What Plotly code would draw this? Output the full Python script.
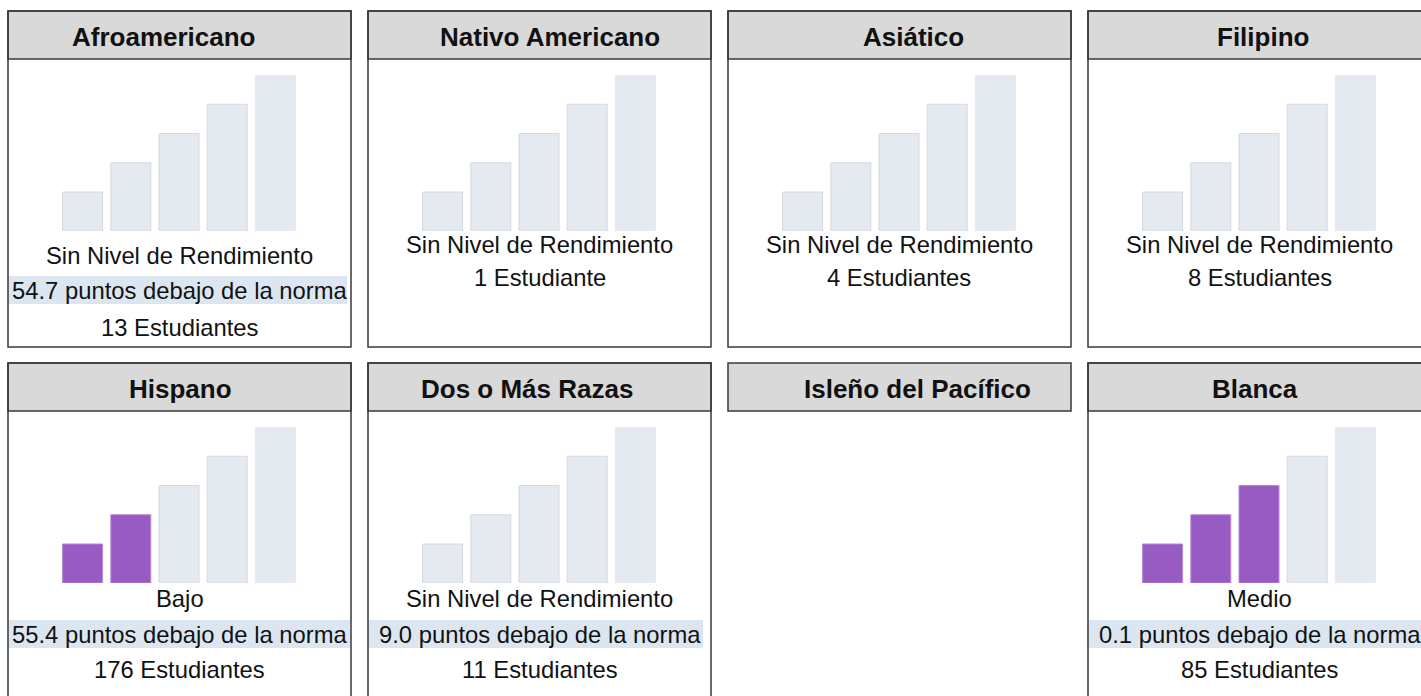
import plotly.graph_objects as go

# ---------------- data ----------------
groups = ["Afroamericano", "Nativo Americano", "Asiático", "Filipino",
          "Hispano", "Dos o Más Razas", "Isleño del Pacífico", "Blanca"]
levels = ["Sin Nivel de Rendimiento", "Sin Nivel de Rendimiento",
          "Sin Nivel de Rendimiento", "Sin Nivel de Rendimiento",
          "Bajo", "Sin Nivel de Rendimiento", None, "Medio"]
distance_text = ["54.7 puntos debajo de la norma", None, None, None,
                 "55.4 puntos debajo de la norma", "9.0 puntos debajo de la norma",
                 None, "0.1 puntos debajo de la norma"]
student_text = ["13 Estudiantes", "1 Estudiante", "4 Estudiantes", "8 Estudiantes",
                "176 Estudiantes", "11 Estudiantes", None, "85 Estudiantes"]
filled_levels = [0, 0, 0, 0, 2, 0, None, 3]   # number of highlighted bars
bar_levels = [1, 2, 3, 4, 5]
bar_heights = [4, 7, 10, 13, 16]

# ---------------- style ----------------
W, H = 1421, 696
FONT = "Liberation Sans, Arial, Helvetica, sans-serif"
BORDER = "#3a3a3a"
HEADER_BG = "#d9d9d9"
BAR_EMPTY = "#e5e9f0"
BAR_EMPTY_EDGE = "#d6d9de"
BAR_FILL = "#985bc4"
BAR_FILL_EDGE = "#b58ad4"
BAND = "#dce6f1"
BODY_SIZE = 23.8
HEAD_SIZE = 26

def px(x):
    return x / W

def py(y):
    return 1 - y / H

# band horizontal extents relative to panel left
band_extent = {0: (0, 339), 4: (0, 342), 5: (0, 335), 7: (-1, 343)}
# horizontal shift of header titles relative to the panel centre
header_dx = [-16, 10, 14, 3.5, 0.5, -13, 18, -5]

fig = go.Figure()
shapes, annotations = [], []
layout_axes = {}
ax_n = 0

for i, g in enumerate(groups):
    row, col = divmod(i, 4)
    left = 8 + 360 * col
    top = 11 + 352 * row
    right = left + 343
    bottom = top + 336
    hdr_bottom = top + 48
    cx = (left + right) / 2
    has_body = student_text[i] is not None

    if has_body:
        shapes.append(dict(type="rect", xref="paper", yref="paper",
                           x0=px(left), x1=px(right), y0=py(bottom), y1=py(top),
                           line=dict(color=BORDER, width=1.5), fillcolor="rgba(0,0,0,0)",
                           layer="above"))
    shapes.append(dict(type="rect", xref="paper", yref="paper",
                       x0=px(left), x1=px(right), y0=py(hdr_bottom), y1=py(top),
                       line=dict(color=BORDER, width=1.5), fillcolor=HEADER_BG,
                       layer="below"))
    annotations.append(dict(xref="paper", yref="paper", x=px(cx + header_dx[i]),
                            y=py(top + 26),
                            text="<b>%s</b>" % g, showarrow=False,
                            xanchor="center", yanchor="middle",
                            font=dict(family=FONT, size=HEAD_SIZE, color="#111111")))
    if not has_body:
        continue

    # bars
    ax_n += 1
    sfx = "" if ax_n == 1 else str(ax_n)
    nfill = filled_levels[i]
    colors = [BAR_FILL if k < nfill else BAR_EMPTY for k in range(len(bar_levels))]
    edges = [BAR_FILL_EDGE if k < nfill else BAR_EMPTY_EDGE for k in range(len(bar_levels))]
    edges[-1] = colors[-1] if nfill < len(bar_levels) else edges[-1]
    fig.add_trace(go.Bar(x=bar_levels, y=bar_heights, xaxis="x" + sfx, yaxis="y" + sfx,
                         marker=dict(color=colors, line=dict(color=edges, width=1)),
                         hoverinfo="skip", showlegend=False))
    layout_axes["xaxis" + sfx] = dict(domain=[px(left + 50.5), px(left + 291.5)],
                                      range=[0.5, 5.5], visible=False, fixedrange=True,
                                      anchor="y" + sfx)
    layout_axes["yaxis" + sfx] = dict(domain=[py(top + 220), py(top + 64)],
                                      range=[0, 16], visible=False, fixedrange=True,
                                      anchor="x" + sfx)

    # texts
    if distance_text[i] is not None:
        if row == 0:
            y_lvl, y_dist, y_stu = top + 244, top + 279, top + 316
        else:
            y_lvl, y_dist, y_stu = top + 235, top + 271, top + 306
        b0, b1 = band_extent[i]
        shapes.append(dict(type="rect", xref="paper", yref="paper",
                           x0=px(left + b0), x1=px(left + b1),
                           y0=py(y_dist + 14), y1=py(y_dist - 14),
                           line=dict(width=0), fillcolor=BAND, layer="below"))
        annotations.append(dict(xref="paper", yref="paper", x=px(cx), y=py(y_dist),
                                text=distance_text[i], showarrow=False,
                                xanchor="center", yanchor="middle",
                                font=dict(family=FONT, size=BODY_SIZE, color="#111111")))
    else:
        y_lvl, y_stu = top + 233, top + 267
    annotations.append(dict(xref="paper", yref="paper", x=px(cx), y=py(y_lvl),
                            text=levels[i], showarrow=False,
                            xanchor="center", yanchor="middle",
                            font=dict(family=FONT, size=BODY_SIZE, color="#111111")))
    annotations.append(dict(xref="paper", yref="paper", x=px(cx), y=py(y_stu),
                            text=student_text[i], showarrow=False,
                            xanchor="center", yanchor="middle",
                            font=dict(family=FONT, size=BODY_SIZE, color="#111111")))

fig.update_layout(width=W, height=H, margin=dict(l=0, r=0, t=0, b=0),
                  paper_bgcolor="white", plot_bgcolor="rgba(0,0,0,0)",
                  bargap=0.17, showlegend=False, shapes=shapes, annotations=annotations,
                  **layout_axes)
fig.write_html("out.html", config={"displayModeBar": False},
               post_script="document.body.style.margin='0px';"
                           "document.documentElement.style.overflow='hidden';")
